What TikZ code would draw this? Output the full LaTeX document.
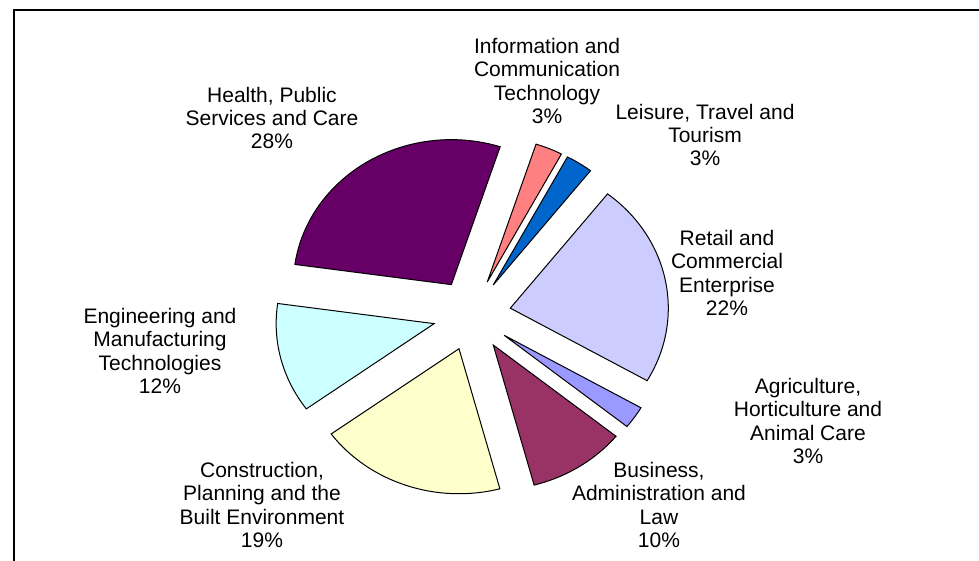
\documentclass[tikz,border=0pt]{standalone}
\usepackage{fontspec}
\setmainfont{Liberation Sans}
\usetikzlibrary{calc}
\definecolor{healthcol}{HTML}{660066}
\definecolor{infocol}{HTML}{FF8080}
\definecolor{leisurecol}{HTML}{0066CC}
\definecolor{retailcol}{HTML}{CCCCFF}
\definecolor{agricol}{HTML}{9999FF}
\definecolor{businesscol}{HTML}{993366}
\definecolor{constrcol}{HTML}{FFFFCC}
\definecolor{engcol}{HTML}{CCFFFF}
\tikzset{
  lbl/.style={align=center, font=\fontsize{10.5}{11.6}\selectfont, inner sep=0pt},
  wedge/.style={draw=black, line width=0.5pt, line join=miter}
}
\begin{document}
\begin{tikzpicture}[x=0.5pt, y=0.5pt]
    \useasboundingbox (0,0) rectangle (979,561);

    % chart frame (cut at the right and bottom)
    \draw[line width=1.1pt, black] (14,0) -- (14,551) -- (979,551);

    % centre of the pie
    \coordinate (c) at (472,246);

    % exploded slices: from angle / to angle / colour
    \foreach \from/\to/\col in {72/62/infocol, 62/52/leisurecol, 52/-30/retailcol,
        -30/-39/agricol, -39/-75/businesscol, -75/-144/constrcol,
        -144/-188/engcol, -188/-288/healthcol}{
      \pgfmathsetmacro{\mid}{(\from+\to)/2}
      \coordinate (tip) at ($(c)+(\mid:39 and 35.8)$);
      \filldraw[wedge, fill=\col] (tip) -- ++(\from:158 and 145)
        arc[start angle=\from, end angle=\to, x radius=158, y radius=145] -- cycle;
    }

    % labels
    \node[lbl] (health) at (272,443) {Health, Public\\Services and Care\\28\%};
    \node[lbl] (info) at (547,480) {Information and\\Communication\\Technology\\3\%};
    \node[lbl] (leisure) at (705,426) {Leisure, Travel and\\Tourism\\3\%};
    \node[lbl] (retail) at (727,288) {Retail and\\Commercial\\Enterprise\\22\%};
    \node[lbl] (agri) at (808,140) {Agriculture,\\Horticulture and\\Animal Care\\3\%};
    \node[lbl] (business) at (659,56) {Business,\\Administration and\\Law\\10\%};
    \node[lbl] (constr) at (262,56) {Construction,\\Planning and the\\Built Environment\\19\%};
    \node[lbl] (eng) at (160,210) {Engineering and\\Manufacturing\\Technologies\\12\%};
\end{tikzpicture}
\end{document}
